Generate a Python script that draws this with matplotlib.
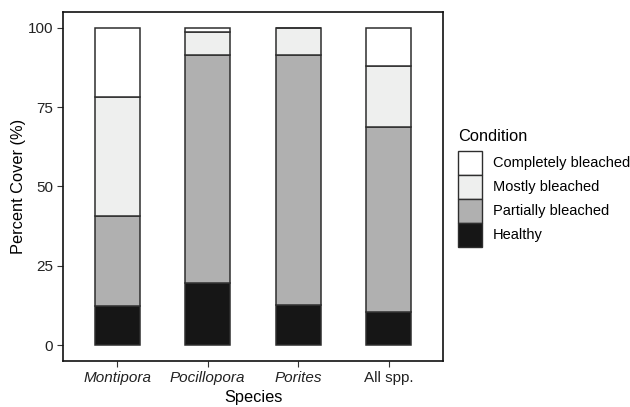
import numpy as np
import matplotlib.pyplot as plt
from matplotlib.patches import Patch

plt.rcParams["font.family"] = ["Liberation Sans", "DejaVu Sans"]

species = ["Montipora", "Pocillopora", "Porites", "All spp."]
italic = [True, True, True, False]

# percent cover by condition (stacked bottom to top)
healthy = [12.2, 19.7, 12.6, 10.3]
partially = [28.4, 71.6, 78.7, 58.3]
mostly = [37.5, 7.5, 8.6, 19.4]
completely = [21.9, 1.2, 0.1, 12.0]

conditions = ["Healthy", "Partially bleached", "Mostly bleached", "Completely bleached"]
colors = ["#161616", "#b0b0b0", "#eeefee", "#ffffff"]
edge = "#2e2e2e"

W, H = 630, 407
fig = plt.figure(figsize=(W / 100, H / 100), dpi=100)
ax = fig.add_axes([63 / W, 1 - 361 / H, 380 / W, 349 / H])

x = np.arange(len(species))
bottom = np.zeros(len(species))
for vals, col in zip([healthy, partially, mostly, completely], colors):
    ax.bar(x, vals, width=0.5, bottom=bottom, color=col,
           edgecolor=edge, linewidth=1.1, zorder=3)
    bottom += np.array(vals)

ax.set_xlim(-0.6, len(species) - 0.4)
ax.set_ylim(-5, 105)
ax.set_yticks([0, 25, 50, 75, 100])
ax.set_xticks(x)
ax.set_xticklabels(species)
for lab, it in zip(ax.get_xticklabels(), italic):
    if it:
        lab.set_style("italic")

ax.tick_params(axis="both", length=4, width=0.8, color="#333333",
               labelsize=11, labelcolor="#222222", pad=3)
for sp in ax.spines.values():
    sp.set_linewidth(1.2)
    sp.set_color("#111111")

ax.set_xlabel("Species", fontsize=11.8, labelpad=4)
ax.set_ylabel("Percent Cover (%)", fontsize=11.8, labelpad=1)

# square keys ~24 px: legend box height = fs*(0.65*hh + 0.245)
handles = [Patch(facecolor=c, edgecolor=edge, linewidth=1.0) for c in colors]
leg = fig.legend(handles[::-1], conditions[::-1], title="Condition",
                 loc="upper left", bbox_to_anchor=(455 / W, 1 - 126 / H),
                 frameon=False, fontsize=10.5, title_fontsize=11.8,
                 handlelength=1.64, handleheight=2.15, labelspacing=0.0,
                 handletextpad=0.75, borderaxespad=0, borderpad=0.2)
leg._legend_box.align = "left"
leg._legend_box.sep = 5

fig.savefig("out.png", dpi=100)
